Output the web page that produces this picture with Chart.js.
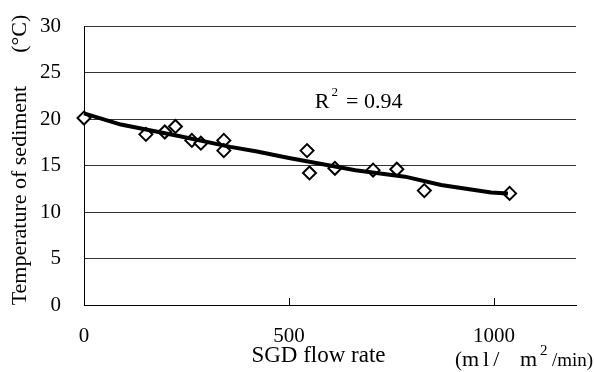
<!DOCTYPE html>
<html><head><meta charset="utf-8">
<script src="https://cdn.jsdelivr.net/npm/chart.js@4"></script>
<style>html,body{margin:0;padding:0;background:#fff}#wrap{width:594px;height:372px}</style>
</head><body><div id="wrap"><canvas id="c"></canvas></div>
<script>
// measured points (SGD flow rate vs sediment temp)
const flowRate = [0,151,197,223,263,285,341,341,544,550,612,705,763,830,1038]
const sedimentTemp = [20.1,18.35,18.6,19.2,17.7,17.4,17.7,16.6,16.6,14.2,14.7,14.5,14.6,12.3,12.0]
// fitted line as drawn
const trendX = [0,90,228,357,422,500,662,783,871,993,1034]
const trendY = [20.6,19.4,18.2,17.0,16.5,15.8,14.5,13.8,12.9,12.1,12.0]
const xTicks = [0,500,1000]
const yTicks = [0,5,10,15,20,25,30]
const r2Value = '0.94'
const r2At = [563,21.2]

const serif = 'Liberation Serif'
const nb = n => '\u00a0'.repeat(n)

const extras = {
  id:'extras',
  afterDraw(chart){
    const {ctx,chartArea,scales:{x,y}} = chart
    ctx.save()
    // small inward ticks on x axis
    ctx.strokeStyle = '#000'; ctx.lineWidth = 1
    xTicks.slice(1).forEach(v=>{
      const px = Math.round(x.getPixelForValue(v))+0.5
      ctx.beginPath(); ctx.moveTo(px,chartArea.bottom); ctx.lineTo(px,chartArea.bottom-7); ctx.stroke()
    })
    ctx.fillStyle = '#000'
    ctx.textBaseline = 'alphabetic'; ctx.textAlign = 'left'
    // R^2 label
    let tx = x.getPixelForValue(r2At[0]), ty = y.getPixelForValue(r2At[1])
    ctx.font = '22px "'+serif+'"'
    ctx.fillText('R',tx,ty)
    tx += ctx.measureText('R').width + 2
    ctx.font = '13px "'+serif+'"'
    ctx.fillText('2',tx,ty-12)
    tx += ctx.measureText('2').width + 8
    ctx.font = '22px "'+serif+'"'
    ctx.fillText('= '+r2Value,tx,ty)
    // units label under right end of axis
    const r = chartArea.right, by = chart.height - 6
    ctx.font = '21px "'+serif+'"'
    ctx.fillText('(',r-121,by)
    ctx.font = '22px "'+serif+'"'
    ctx.letterSpacing = '4px'
    ctx.fillText('ml/',r-114,by)
    ctx.letterSpacing = '0px'
    ctx.fillText('m',r-56,by)
    ctx.font = '15px "'+serif+'"'
    ctx.fillText('2',r-36,by-11)
    ctx.font = '19px "'+serif+'"'
    ctx.fillText('/min)',r-24,by)
    ctx.restore()
  }
}

const noPad = s => { s.paddingTop = 0; s.paddingBottom = 0; s.paddingLeft = 0; s.paddingRight = 0 }

new Chart(document.getElementById('c'),{
  data:{datasets:[
    {type:'line',data:trendX.map((v,i)=>({x:v,y:trendY[i]})),borderColor:'#000',borderWidth:4,
     pointRadius:0,tension:0,fill:false,order:0,clip:false},
    {type:'scatter',data:flowRate.map((v,i)=>({x:v,y:sedimentTemp[i]})),pointStyle:'rectRot',
     pointRadius:6.5,pointBorderWidth:2,pointBorderColor:'#000',pointBackgroundColor:'#fff',order:1,clip:false}
  ]},
  options:{
    responsive:true,maintainAspectRatio:false,animation:false,
    layout:{padding:{left:0,right:18,top:26,bottom:0}},
    plugins:{legend:{display:false},tooltip:{enabled:false}},
    scales:{
      x:{type:'linear',min:0,max:1200,
        afterBuildTicks:s=>{s.ticks = xTicks.map(v=>({value:v}))},
        afterFit:s=>{s.height = 67; noPad(s)},
        grid:{display:false,drawTicks:false},
        border:{display:true,color:'#000',width:1},
        ticks:{color:'#000',padding:19,font:{family:serif,size:21},callback:v=>String(v)},
        title:{display:true,text:'SGD flow rate'+nb(4),color:'#000',font:{family:serif,size:23},padding:{top:0,bottom:2}}
      },
      y:{min:0,max:30,
        afterBuildTicks:s=>{s.ticks = yTicks.map(v=>({value:v}))},
        afterFit:s=>{s.width = 84; noPad(s)},
        grid:{color:'#333',lineWidth:1,drawTicks:false},
        border:{display:true,color:'#000',width:1},
        ticks:{color:'#000',padding:23,font:{family:serif,size:21}},
        title:{display:true,text:nb(2)+'Temperature of sediment'+nb(6)+'(°C)',color:'#000',
          font:{family:serif,size:22},padding:{top:7,bottom:0}}
      }
    }
  },
  plugins:[extras]
})
</script>
</body></html>
